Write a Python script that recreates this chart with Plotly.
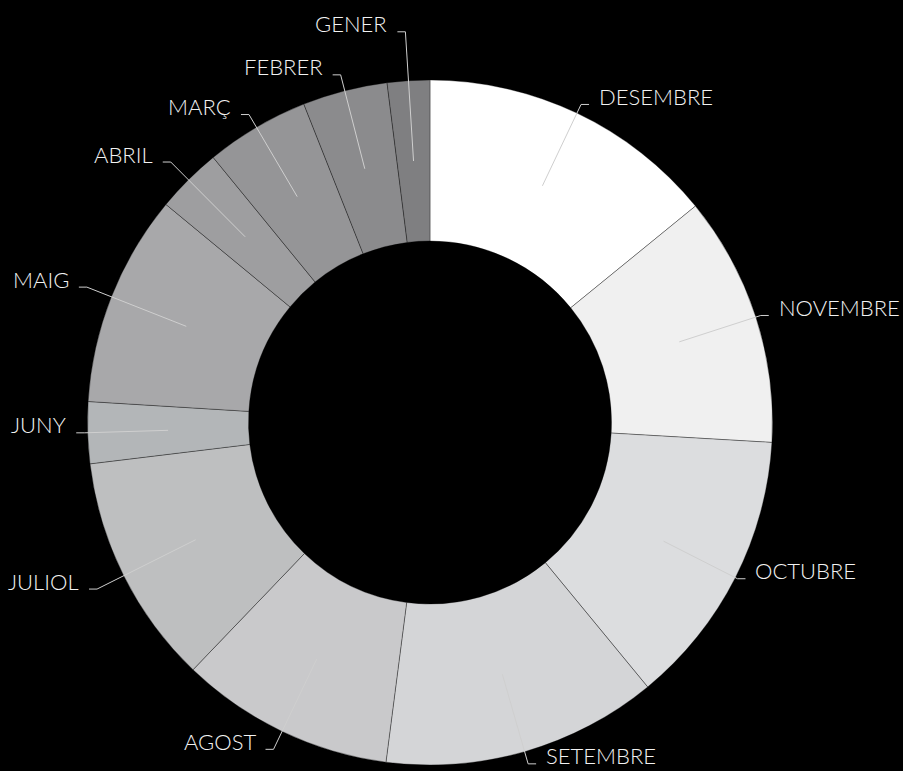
import math
import plotly.graph_objects as go

# ---- data (clockwise from 12 o'clock) ----
months = ["DESEMBRE", "NOVEMBRE", "OCTUBRE", "SETEMBRE", "AGOST", "JULIOL",
          "JUNY", "MAIG", "ABRIL", "MARÇ", "FEBRER", "GENER"]
values = [14.1, 11.8, 13.1, 13.0, 10.1, 10.9, 2.9, 10.0, 3.1, 4.9, 4.0, 2.0]
colors = ["#ffffff", "#f0f0f0", "#dcdddf", "#d4d5d7", "#c9c9cb", "#bebfc0",
          "#b3b6b8", "#a8a8aa", "#9e9ea0", "#959597", "#8b8b8d", "#7f7f81"]
# radial position of the label elbow (in units of the outer radius)
label_radius = [1.028, 1.015, 1.007, 1.037, 1.058, 1.087,
                1.010, 1.077, 1.073, 1.043, 1.048, 1.143]

# ---- layout geometry (pixels) ----
W, H = 903, 771
CX, CY, R = 430.0, 422.5, 342.5
HOLE = 0.53
LINE_START = 0.765
HOOK = 8
GAP = 8

fig = go.Figure(go.Pie(
    labels=months, values=values, sort=False, direction="clockwise",
    rotation=0, hole=HOLE, textinfo="none", hoverinfo="label+percent",
    marker=dict(colors=colors, line=dict(color="rgba(0,0,0,0.55)", width=0.6)),
    domain=dict(x=[(CX - R) / W, (CX + R) / W],
                y=[(H - CY - R) / H, (H - CY + R) / H]),
    showlegend=False,
))


def px(x, y):
    return x / W, 1 - y / H


shapes, annots = [], []
total = sum(values)
cum = 0.0
for m, v, lr in zip(months, values, label_radius):
    mid = (cum + v / 2) / total * 2 * math.pi
    cum += v
    s, c = math.sin(mid), math.cos(mid)
    sx, sy = CX + LINE_START * R * s, CY - LINE_START * R * c
    ex, ey = CX + lr * R * s, CY - lr * R * c
    side = 1 if s >= 0 else -1
    hx = ex + side * HOOK
    p1, p2, p3 = px(sx, sy), px(ex, ey), px(hx, ey)
    shapes.append(dict(
        type="path", xref="paper", yref="paper", layer="above",
        path=f"M {p1[0]},{p1[1]} L {p2[0]},{p2[1]} L {p3[0]},{p3[1]}",
        line=dict(color="#cfcfcf", width=1),
    ))
    tx, ty = px(hx + side * GAP, ey)
    annots.append(dict(
        x=tx, y=ty, xref="paper", yref="paper", text=m, showarrow=False,
        xanchor="left" if side > 0 else "right", yanchor="middle", yshift=8,
        font=dict(family="Lato", size=22, color="#f2f2f2", weight=300),
    ))

fig.update_layout(
    width=W, height=H, autosize=False,
    margin=dict(l=0, r=0, t=0, b=0),
    paper_bgcolor="#000000", plot_bgcolor="#000000",
    shapes=shapes, annotations=annots,
)

fig.write_html(
    "out.html",
    config={"displayModeBar": False},
    post_script="document.body.style.margin='0';"
                "document.body.style.background='#000';"
                "document.body.style.overflow='hidden';",
)
